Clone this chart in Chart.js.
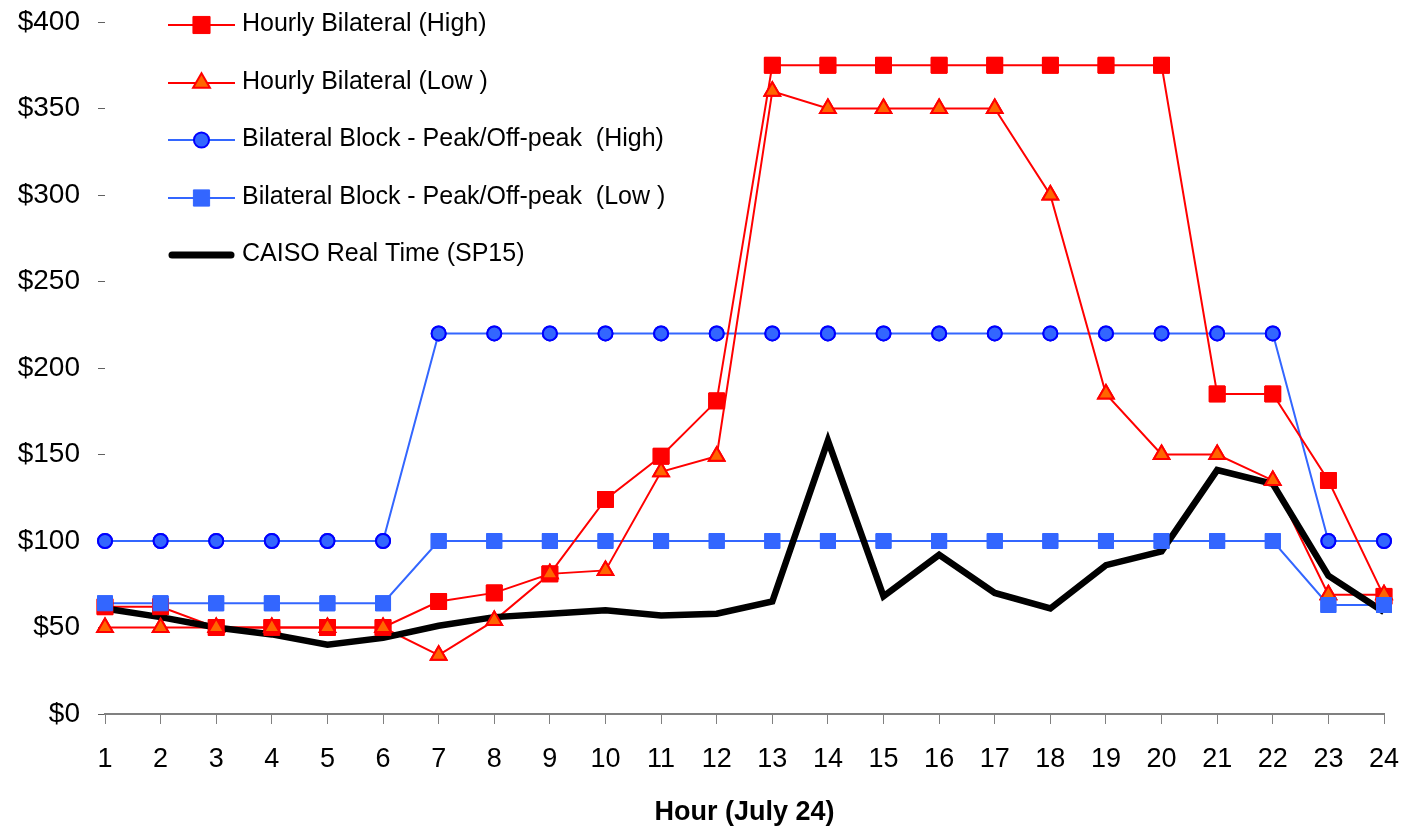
<!DOCTYPE html>
<html>
<head>
<meta charset="utf-8">
<script src="https://cdn.jsdelivr.net/npm/chart.js@4"></script>
<style>
  html, body { margin: 0; padding: 0; background: #ffffff; }
  #wrap { width: 1404px; height: 826px; position: relative; }
</style>
</head>
<body>
<div id="wrap"><canvas id="c"></canvas></div>
<script>
const hours = ['1','2','3','4','5','6','7','8','9','10','11','12','13','14','15','16','17','18','19','20','21','22','23','24'];
const hourlyHigh = [62,62,50,50,50,50,65,70,81,124,149,181,375,375,375,375,375,375,375,375,185,185,135,68];
const hourlyLow  = [50,50,50,50,50,50,34,54,81,83,140,149,360,350,350,350,350,300,185,150,150,135,69,69];
const blockHigh  = [100,100,100,100,100,100,220,220,220,220,220,220,220,220,220,220,220,220,220,220,220,220,100,100];
const blockLow   = [64,64,64,64,64,64,100,100,100,100,100,100,100,100,100,100,100,100,100,100,100,100,63,63];
const caiso      = [61,56,50,46,40,44,51,56,58,60,57,58,65,158,68,92,70,61,86,94,141,133,80,59];
const seriesNames = ['Hourly Bilateral (High)','Hourly Bilateral (Low )','Bilateral Block - Peak/Off-peak  (High)','Bilateral Block - Peak/Off-peak  (Low )','CAISO Real Time (SP15)'];
const yTicks = [0,50,100,150,200,250,300,350,400];
const xTitle = 'Hour (July 24)';

const FONT = '"Liberation Sans", Arial, sans-serif';

// Draw all markers above all lines (as in the original spreadsheet chart)
const markersOnTop = {
  id: 'markersOnTop',
  afterDatasetsDraw(chart) {
    const ctx = chart.ctx;
    chart.data.datasets.forEach((ds, i) => {
      const meta = chart.getDatasetMeta(i);
      if (!meta.hidden) meta.data.forEach(p => p.draw(ctx, chart.chartArea));
    });
  }
};

// Vertical legend with line + marker samples, inside the plot area
const lineLegend = {
  id: 'lineLegend',
  afterDraw(chart) {
    const ctx = chart.ctx;
    const x0 = 168, x1 = 235, tx = 242;
    const rows = [25, 83, 140, 198, 255];
    ctx.save();
    chart.data.datasets.forEach((ds, i) => {
      const y = rows[i];
      const thick = ds.borderWidth > 4;
      ctx.beginPath();
      ctx.strokeStyle = ds.borderColor;
      ctx.lineWidth = thick ? 7 : ds.borderWidth;
      ctx.lineCap = thick ? 'round' : 'butt';
      ctx.moveTo(thick ? x0 + 4 : x0, y);
      ctx.lineTo(thick ? x1 - 4 : x1, y);
      ctx.stroke();
      if (ds.pointRadius > 0) {
        ctx.fillStyle = ds.pointBackgroundColor;
        ctx.strokeStyle = ds.pointBorderColor;
        ctx.lineWidth = ds.pointBorderWidth;
        Chart.helpers.drawPoint(ctx, {
          pointStyle: ds.pointStyle, rotation: 0, radius: ds.pointRadius * 1.08, borderWidth: ds.pointBorderWidth
        }, (x0 + x1) / 2, y);
      }
      ctx.fillStyle = '#000';
      ctx.font = '25px ' + FONT;
      ctx.textBaseline = 'middle';
      ctx.textAlign = 'left';
      ctx.fillText(seriesNames[i], tx, y - 1);
    });
    ctx.restore();
  }
};

const chart = new Chart(document.getElementById('c'), {
  type: 'line',
  data: {
    labels: hours,
    datasets: [
      { label: seriesNames[0], data: hourlyHigh, borderColor: '#FF0000', borderWidth: 2,
        pointStyle: 'rect', pointRadius: 11.2, pointBackgroundColor: '#FF0000', pointBorderColor: '#FF0000', pointBorderWidth: 1, clip: false },
      { label: seriesNames[1], data: hourlyLow, borderColor: '#FF0000', borderWidth: 2,
        pointStyle: 'triangle', pointRadius: 9, pointBackgroundColor: '#FF6600', pointBorderColor: '#FF0000', pointBorderWidth: 2, clip: false },
      { label: seriesNames[2], data: blockHigh, borderColor: '#3366FF', borderWidth: 2,
        pointStyle: 'circle', pointRadius: 7, pointBackgroundColor: '#3366FF', pointBorderColor: '#0000FF', pointBorderWidth: 2, clip: false },
      { label: seriesNames[3], data: blockLow, borderColor: '#3366FF', borderWidth: 2,
        pointStyle: 'rect', pointRadius: 10.6, pointBackgroundColor: '#3366FF', pointBorderColor: '#3366FF', pointBorderWidth: 1, clip: false },
      { label: seriesNames[4], data: caiso, borderColor: '#000000', borderWidth: 6.5,
        pointRadius: 0, order: -1, clip: false, borderJoinStyle: 'miter' }
    ]
  },
  options: {
    responsive: true,
    maintainAspectRatio: false,
    animation: false,
    devicePixelRatio: 1,
    layout: { padding: { top: 22, right: 20, left: 0, bottom: 0 } },
    plugins: { legend: { display: false }, tooltip: { enabled: false } },
    elements: { line: { tension: 0 } },
    scales: {
      x: {
        type: 'category',
        offset: false,
        grid: { display: true, drawOnChartArea: false, drawTicks: true, tickLength: 10, color: '#808080', lineWidth: 1 },
        border: { display: true, color: '#808080', width: 2 },
        ticks: { color: '#000', font: { family: FONT, size: 27 }, padding: 19, maxRotation: 0, autoSkip: false },
        title: { display: true, text: xTitle, color: '#000', font: { family: FONT, size: 27, weight: 'bold', lineHeight: 1.0 }, padding: { top: 0, bottom: 0 } },
        afterFit(s) { s.height = 112; s.paddingLeft = 0; s.paddingRight = 0; }
      },
      y: {
        min: 0, max: 400,
        afterBuildTicks(s) { s.ticks = yTicks.map(v => ({ value: v })); },
        grid: { display: true, drawOnChartArea: false, drawTicks: true, tickLength: 7, color: '#606060', lineWidth: 1 },
        border: { display: false },
        ticks: { color: '#000', font: { family: FONT, size: 28 }, padding: 18, callback: v => '$' + v },
        afterFit(s) { s.width = 105; s.paddingTop = 0; s.paddingBottom = 0; }
      }
    }
  },
  plugins: [markersOnTop, lineLegend]
});
</script>
</body>
</html>
